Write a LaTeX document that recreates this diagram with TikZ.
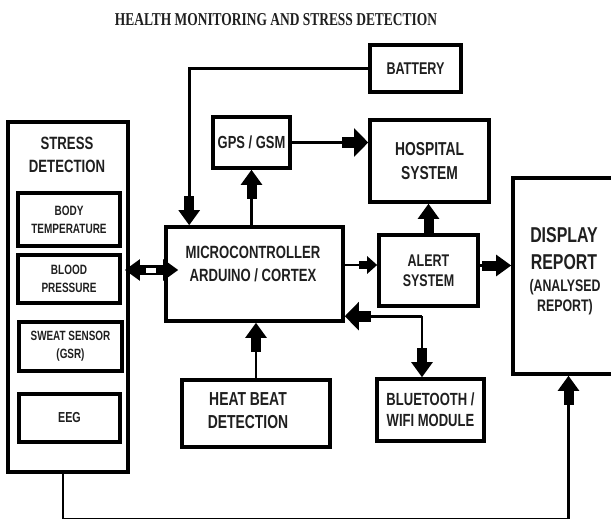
\documentclass[tikz,border=0pt]{standalone}
\usepackage{fontspec}
\usepackage{graphicx}
\usetikzlibrary{arrows.meta,calc}
\newfontfamily\cf[FakeStretch=0.74]{Liberation Sans}
\newfontfamily\tf[FakeStretch=0.8]{Liberation Serif}
\newcommand{\fsz}[2]{\fontsize{#1}{#2}\selectfont}
\tikzset{
  Fat/.tip={Rectangle[length=14pt,width=10pt,sep=0pt]Triangle[length=15pt,width=21pt,sep=0pt]},
  FatW/.tip={Rectangle[length=12pt,width=11pt,sep=0pt]Triangle[length=14pt,width=28pt,sep=0pt]},
  FatS/.tip={Rectangle[length=8pt,width=8pt,sep=0pt]Triangle[length=10pt,width=17pt,sep=0pt]},
  box/.style={draw, line width=3.6pt, inner sep=0pt, align=center, text=black!88},
  txt/.style={inner sep=0pt, align=center, text=black!88},
  conn/.style={line width=2.6pt}
}
\begin{document}
\begin{tikzpicture}[x=1pt,y=-1pt]
\useasboundingbox (0,0) rectangle (611,519);

% title
\node[txt] (title) at (276,20) {\resizebox{322pt}{12pt}{\tf\bfseries HEALTH MONITORING AND STRESS DETECTION}};

% boxes
\node[box, minimum width=91pt, minimum height=47pt, font=\cf\bfseries\fsz{17}{20}] (battery) at (415.5,68.5) {BATTERY};
\node[box, line width=3.8pt, minimum width=120pt, minimum height=350pt] (stress) at (68,297) {};
\node[txt, font=\cf\bfseries\fsz{17.8}{23}] (stresstxt) at (67,154.5) {STRESS\\DETECTION};
\node[box, minimum width=102pt, minimum height=53pt, font=\cf\bfseries\fsz{13.5}{18}] (body) at (69,219.5) {BODY\\TEMPERATURE};
\node[box, minimum width=102pt, minimum height=48pt, font=\cf\bfseries\fsz{13.5}{18}] (blood) at (69,279) {BLOOD\\PRESSURE};
\node[box, minimum width=103pt, minimum height=49pt, font=\cf\bfseries\fsz{13.4}{18}] (sweat) at (70.5,346.5) {SWEAT SENSOR\\(GSR)};
\node[box, minimum width=101pt, minimum height=48pt, font=\cf\bfseries\fsz{14.5}{18}] (eeg) at (69.5,418) {EEG};

\node[box, minimum width=77pt, minimum height=51pt, font=\cf\bfseries\fsz{17.5}{21}] (gps) at (251.5,142.5) {GPS / GSM};
\node[box, minimum width=119pt, minimum height=82pt, font=\cf\bfseries\fsz{18.7}{24}] (hospital) at (429.5,161) {HOSPITAL\\SYSTEM};
\node[box, minimum width=177pt, minimum height=94pt] (micro) at (254.5,274) {};
\node[txt, font=\cf\bfseries\fsz{17.7}{23}] (microtxt) at (253,263.5) {MICROCONTROLLER\\ARDUINO / CORTEX};
\node[box, minimum width=99pt, minimum height=71pt, font=\cf\bfseries\fsz{16.9}{20}] (alert) at (428.5,270.5) {ALERT\\SYSTEM};
\node[box, minimum width=109pt, minimum height=196pt] (display) at (567.5,276) {};
\node[txt, font=\cf\bfseries\fsz{21.5}{27}] (disptxt) at (564,248.5) {DISPLAY\\REPORT};
\node[txt, font=\cf\bfseries\fsz{16.7}{20}] (disptxtb) at (565,297) {(ANALYSED\\REPORT)};
\node[box, minimum width=148pt, minimum height=67pt] (heat) at (256,413.5) {};
\node[txt, font=\cf\bfseries\fsz{18.8}{23}] (heattxt) at (248,410.5) {HEAT BEAT\\DETECTION};
\node[box, minimum width=107pt, minimum height=62pt, font=\cf\bfseries\fsz{17.6}{21}] (bt) at (430.5,410) {BLUETOOTH /\\WIFI MODULE};

% connectors
\draw[conn, -Fat] (battery.west) -| ([xshift=25pt]micro.north west);
\draw[conn, -Fat] (micro.north -| gps.south) -- (gps.south);
\draw[conn, -FatW] (gps.east) -- (gps.east -| hospital.west);
\draw[conn, -Fat] (alert.north) -- (alert.north |- hospital.south);
\draw[conn, -FatS] ([yshift=9pt]micro.east) -- ([yshift=9pt]micro.east -| alert.west);
\draw[conn, -Fat] ([yshift=5pt]alert.east) -- ([yshift=5pt]alert.east -| display.west);
\coordinate (btc) at ([xshift=-8.5pt,yshift=61pt]bt.north);
\draw[conn, -FatW] (btc) -- (btc -| micro.east);
\draw[conn, -Fat] (btc) -- (btc |- bt.north);
\draw[conn, -Fat] (heat.north) -- (heat.north |- micro.south);
\draw[conn, -Fat] ([xshift=-5pt]stress.south) -- ++(0,45) -| ([xshift=1pt]display.south);

% double arrow stress <-> micro
\coordinate (dac) at (151,270);
\draw[conn, -Fat] (dac) -- ([xshift=14pt]dac -| micro.west);
\draw[conn, -Fat] (dac) -- ([xshift=-5pt]dac -| stress.east);
\fill[white] ($(dac)+(-5,-2.5)$) rectangle ($(dac)+(5,2.5)$);
\end{tikzpicture}
\end{document}
